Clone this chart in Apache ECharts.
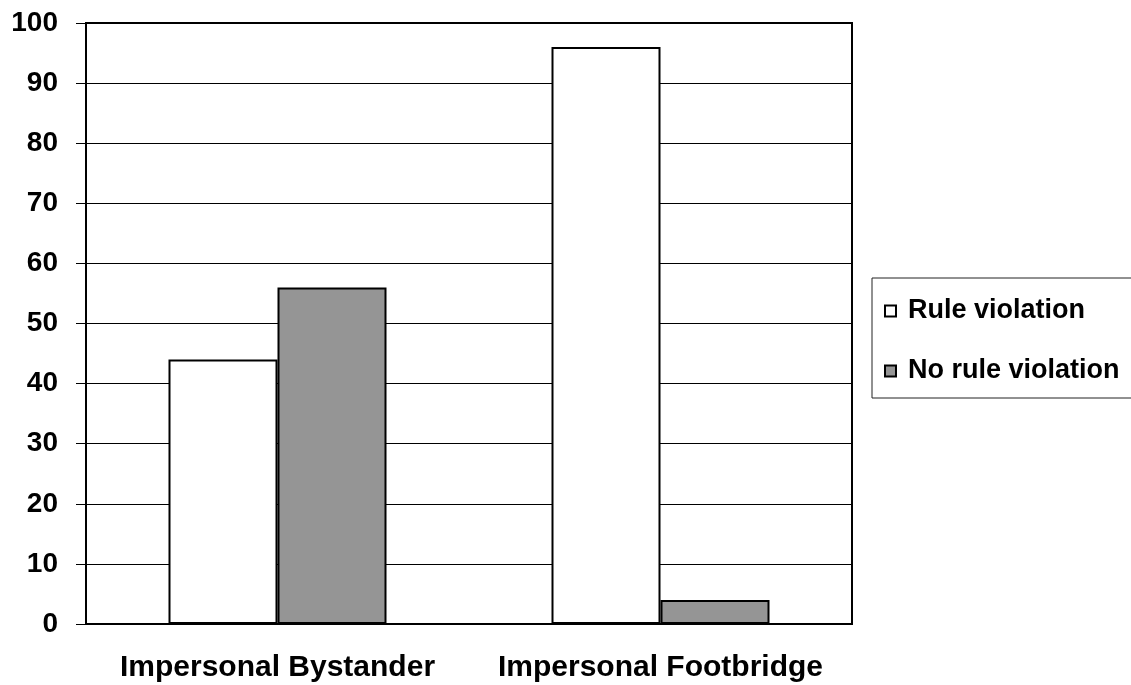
<!DOCTYPE html>
<html>
<head>
<meta charset="utf-8">
<script src="https://cdn.jsdelivr.net/npm/echarts@6/dist/echarts.min.js"></script>
<style>
  html, body { margin: 0; padding: 0; background: #fff; }
  #chart { width: 1131px; height: 685px; }
</style>
</head>
<body>
<div id="chart"></div>
<script>
const categories = ['Impersonal Bystander', 'Impersonal Footbridge'];
const seriesNames = ['Rule violation', 'No rule violation'];
const ruleViolation = [44, 96];
const noRuleViolation = [56, 4];
const yTicks = [0, 100, 10]; // min, max, interval

let chart = echarts.init(document.getElementById('chart'));

chart.setOption({
    backgroundColor: '#fff',
    animation: false,
    textStyle: { fontFamily: 'Liberation Sans, Arial, sans-serif' },
    grid: {
        left: 86,
        right: 279,
        top: 23,
        bottom: 61,
        show: true,
        borderColor: '#000',
        borderWidth: 2
    },
    legend: {
        orient: 'vertical',
        left: 872,
        top: 278,
        icon: 'rect',
        itemWidth: 11,
        itemHeight: 11,
        itemGap: 32,
        padding: [19, 40, 13, 12],
        borderColor: '#222',
        borderWidth: 1,
        data: seriesNames,
        textStyle: {
            color: '#000',
            fontSize: 27,
            lineHeight: 28,
            fontWeight: 'bold',
            padding: [0, 0, 0, 7]
        }
    },
    xAxis: {
        type: 'category',
        data: categories,
        axisLine: { lineStyle: { color: '#000', width: 2 } },
        axisTick: { length: 8, lineStyle: { color: '#000', width: 1 } },
        axisLabel: { color: '#000', fontSize: 30, fontWeight: 'bold', margin: 29, interval: 0 }
    },
    yAxis: {
        type: 'value',
        min: yTicks[0],
        max: yTicks[1],
        interval: yTicks[2],
        axisLine: { show: true, lineStyle: { color: '#000', width: 2 } },
        axisTick: { show: true, length: 10, lineStyle: { color: '#000', width: 1 } },
        axisLabel: { color: '#000', fontSize: 28, fontWeight: 'bold', margin: 28 },
        splitLine: { lineStyle: { color: '#000', width: 1 } }
    },
    series: [{
        name: seriesNames[0],
        type: 'bar',
        data: ruleViolation,
        barWidth: 109,
        barGap: '0%',
        itemStyle: { color: '#fff', borderColor: '#000', borderWidth: 2 }
    }, {
        name: seriesNames[1],
        type: 'bar',
        data: noRuleViolation,
        barWidth: 109,
        itemStyle: { color: '#959595', borderColor: '#000', borderWidth: 2 }
    }]
});
</script>
</body>
</html>
